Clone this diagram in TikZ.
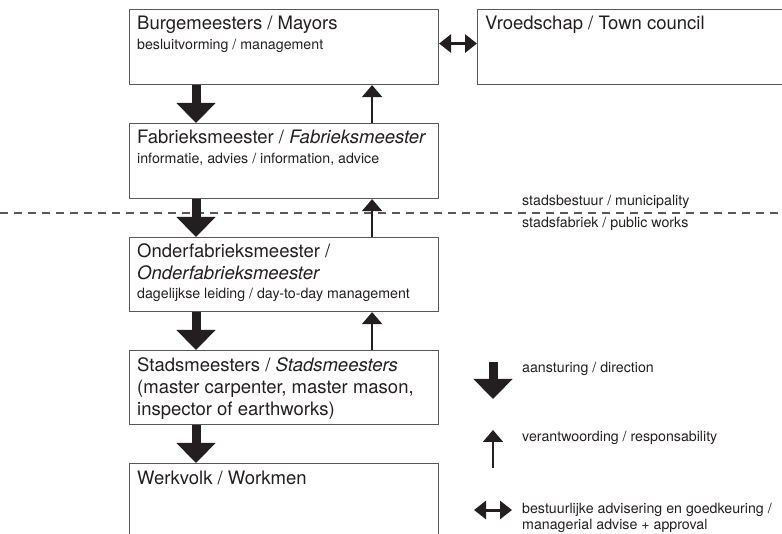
\documentclass[tikz,border=0pt]{standalone}
\usepackage{fontspec}
\setmainfont{TeX Gyre Heros}
\usetikzlibrary{arrows.meta,calc}
\definecolor{ink}{HTML}{231F20}
\definecolor{frame}{HTML}{5A5757}
\begin{document}
\begin{tikzpicture}[x=1pt,y=-1pt,
  box/.style={draw=frame,line width=1.1pt,minimum width=309pt,minimum height=75pt,inner sep=0pt,anchor=north west},
  title/.style={anchor=base west,inner sep=0pt,text=ink,font=\fontsize{18.5}{18.5}\selectfont},
  sub/.style={anchor=base west,inner sep=0pt,text=ink,font=\fontsize{14.2}{14.2}\selectfont},
  downarr/.style={draw=ink,line width=9pt,-{Triangle[width=38pt,length=20pt]}},
  uparr/.style={draw=ink,line width=2pt,-{Triangle[width=20pt,length=12pt]}},
  twoarr/.style={draw=ink,line width=3pt,{Triangle[width=18pt,length=12pt]}-{Triangle[width=18pt,length=12pt]}},
  divider/.style={draw=frame,line width=1.4pt,dash pattern=on 8pt off 6pt}]
\clip (0,0) rectangle (782,534);
% boxes
\node[box] (b1) at (129,9) {};
\node[box] (vr) at (477,9) {};
\node[box] (b2) at (129,123) {};
\node[box,minimum height=74pt] (b3) at (129,237) {};
\node[box,minimum height=74pt] (b4) at (129,350) {};
\node[box,minimum height=90pt] (b5) at (129,463) {};
% texts
\node[title] (t1) at (137,30) {Burgemeesters / Mayors};
\node[sub] (s1) at (137,50) {besluitvorming / management};
\node[title] (tv) at (485,30) {Vroedschap / Town council};
\node[title] (t2) at (137,144) {Fabrieksmeester / \textit{Fabrieksmeester}};
\node[sub] (s2) at (137,164) {informatie, advies / information, advice};
\node[title] (t3a) at (137,258) {Onderfabrieksmeester /};
\node[title] (t3b) at (137,280) {\textit{Onderfabrieksmeester}};
\node[sub] (s3) at (137,299) {dagelijkse leiding / day-to-day management};
\node[title] (t4a) at (137,372) {Stadsmeesters / \textit{Stadsmeesters}};
\node[title] (t4b) at (137,394) {(master carpenter, master mason,};
\node[title] (t4c) at (137,416) {inspector of earthworks)};
\node[title] (t5) at (137,484) {Werkvolk / Workmen};
% divider
\coordinate (dl) at (0,213);
\coordinate (dr) at (782,213);
\draw[divider] (dl) -- (dr);
\node[sub] (m1) at (522,206) {stadsbestuur / municipality};
\node[sub] (m2) at (522,228) {stadsfabriek / public works};
% connectors
\foreach \a/\b in {b1/b2,b2/b3,b3/b4,b4/b5}{
  \draw[downarr] ($(\a.south west)+(67,0)$) -- ($(\b.north west)+(67,0)$);
}
\foreach \a/\b in {b2/b1,b3/b2,b4/b3}{
  \draw[uparr] ($(\a.north east)+(-67,0)$) -- ($(\b.south east)+(-67,0)$);
}
\draw[twoarr] ($(b1.east)+(0,-3.5)$) -- ($(vr.west)+(0,-3.5)$);
% legend
\coordinate (l1a) at (493,362);
\coordinate (l1b) at (493,399);
\draw[downarr] (l1a) -- (l1b);
\node[sub] (lt1) at (522,373) {aansturing / direction};
\coordinate (l2a) at (493,468);
\coordinate (l2b) at (493,430);
\draw[uparr] (l2a) -- (l2b);
\node[sub] (lt2) at (522,442) {verantwoording / responsability};
\coordinate (l3a) at (474,510);
\coordinate (l3b) at (512,510);
\draw[twoarr] (l3a) -- (l3b);
\node[sub] (lt3) at (522,513) {bestuurlijke advisering en goedkeuring /};
\node[sub] (lt4) at (522,529) {managerial advise + approval};
\end{tikzpicture}
\end{document}
